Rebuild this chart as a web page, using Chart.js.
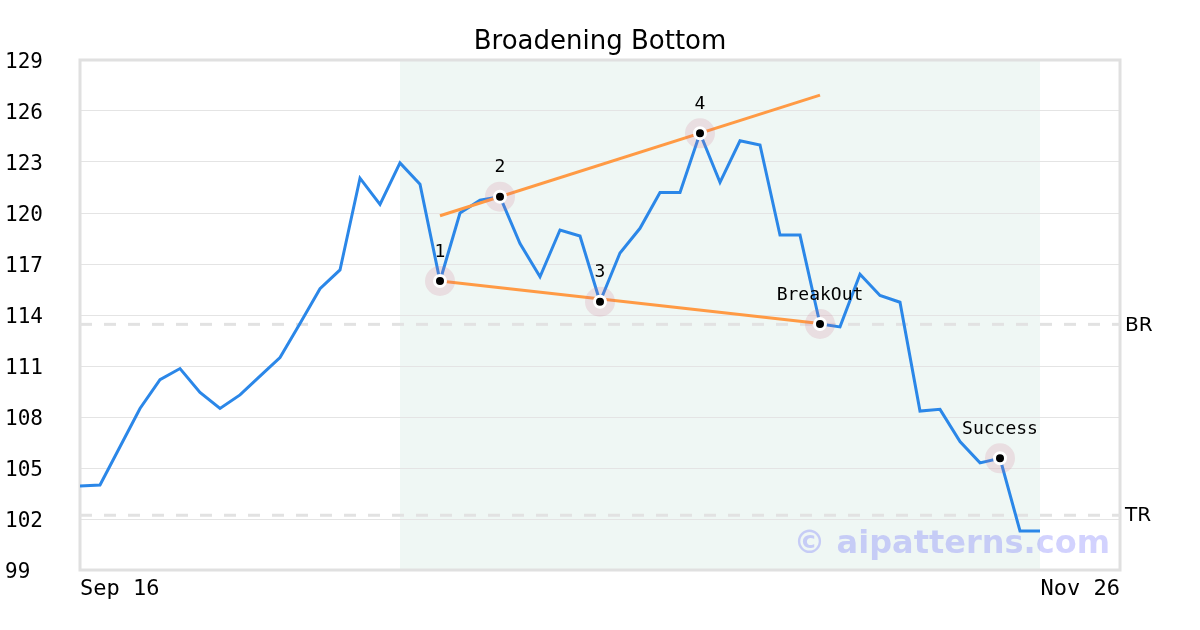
<!DOCTYPE html>
<html><head><meta charset="utf-8">
<script src="https://cdn.jsdelivr.net/npm/chart.js@4"></script>
<style>html,body{margin:0;padding:0;background:#fff}canvas{display:block}</style>
</head><body>
<canvas id="c" width="1200" height="630"></canvas>
<script>
// ---- data ----
const chartTitle = 'Broadening Bottom';
const dateLabels = ['Sep 16', 'Nov 26'];
const slotCount = 53;
const prices = [103.94, 104.0, 106.25, 108.5, 110.2, 110.85, 109.45, 108.5, 109.3, 110.4,
  111.5, 113.5, 115.55, 116.65, 122.05, 120.5, 122.95, 121.7, 116.0, 120.0,
  120.75, 120.96, 118.2, 116.25, 119.0, 118.65, 114.78, 117.65, 119.1, 121.2,
  121.2, 124.69, 121.8, 124.25, 124.0, 118.7, 118.7, 113.47, 113.3, 116.4,
  115.15, 114.75, 108.35, 108.45, 106.55, 105.3, 105.57, 101.3, 101.3];
const patternIdx = [18, 21, 26, 31, 37, 46];
const patternNames = ['1', '2', '3', '4', 'BreakOut', 'Success'];
const trendIdx = [18, 37];
const upperTrendVals = [119.84, 126.93];
const lowerTrendVals = [116.0, 113.5];
const levelNames = ['BR', 'TR'];
const levelValues = [113.45, 102.22];
const shadeIdx = [16, 48];
const yMin = 99, yMax = 129, yStep = 3;
const watermark = '\u00A9 aipatterns.com';

// ---- build ----
const labels = Array.from({length: slotCount}, (_, i) =>
  i === 0 ? dateLabels[0] : (i === slotCount - 1 ? dateLabels[1] : ''));
function sparse(idx, vals) {
  const a = new Array(prices.length).fill(null);
  idx.forEach((k, j) => { a[k] = vals[j]; });
  return a;
}
const markerVals = sparse(patternIdx, patternIdx.map(k => prices[k]));
const upperTrend = sparse(trendIdx, upperTrendVals);
const lowerTrend = sparse(trendIdx, lowerTrendVals);

const MONO = "'DejaVu Sans Mono', monospace";
const SANS = "'DejaVu Sans', sans-serif";

const decor = {
  id: 'decor',
  beforeDraw(chart) {
    const {ctx, chartArea: a, scales: {x}} = chart;
    ctx.save();
    const x0 = x.getPixelForValue(shadeIdx[0]);
    const x1 = x.getPixelForValue(shadeIdx[1]);
    ctx.fillStyle = '#eff7f4';
    ctx.fillRect(x0, a.top, x1 - x0, a.bottom - a.top);
    ctx.fillStyle = '#000';
    ctx.font = "26px " + SANS;
    ctx.textAlign = 'center';
    ctx.textBaseline = 'alphabetic';
    ctx.fillText(chartTitle, chart.width / 2, 48.5);
    ctx.restore();
  },
  beforeDatasetsDraw(chart) {
    const {ctx, chartArea: a, scales: {y}} = chart;
    ctx.save();
    ctx.strokeStyle = '#e0e0e0';
    ctx.lineWidth = 3;
    ctx.strokeRect(a.left, a.top, a.right - a.left, a.bottom - a.top);
    ctx.setLineDash([12, 12]);
    ctx.lineWidth = 3;
    ctx.strokeStyle = '#e2e2e2';
    levelValues.forEach(v => {
      const py = y.getPixelForValue(v);
      ctx.beginPath();
      ctx.moveTo(a.left, py);
      ctx.lineTo(a.right, py);
      ctx.stroke();
    });
    ctx.setLineDash([]);
    ctx.font = "bold 32px " + SANS;
    ctx.fillStyle = 'rgba(95,95,250,0.28)';
    ctx.textAlign = 'right';
    ctx.textBaseline = 'alphabetic';
    ctx.fillText(watermark, a.right - 10, a.bottom - 17);
    ctx.restore();
  },
  afterDatasetsDraw(chart) {
    const {ctx, chartArea: a, scales: {x, y}} = chart;
    ctx.save();
    ctx.fillStyle = '#000';
    ctx.font = "18px " + MONO;
    ctx.textAlign = 'center';
    ctx.textBaseline = 'middle';
    patternIdx.forEach((k, j) => {
      ctx.fillText(patternNames[j], x.getPixelForValue(k), y.getPixelForValue(prices[k]) - 29);
    });
    ctx.font = "20px " + SANS;
    ctx.textAlign = 'left';
    levelValues.forEach((v, j) => {
      ctx.fillText(levelNames[j], a.right + 5, y.getPixelForValue(v) + 1);
    });
    ctx.restore();
  }
};

new Chart(document.getElementById('c'), {
  type: 'line',
  data: {
    labels,
    datasets: [
      { data: markerVals, showLine: false, pointRadius: 5.5, pointHoverRadius: 5.5,
        pointBackgroundColor: '#000', pointBorderColor: '#fff', pointBorderWidth: 3, order: 0 },
      { data: markerVals, showLine: false, pointRadius: 15, pointHoverRadius: 15,
        pointBackgroundColor: 'rgba(205,110,140,0.18)', pointBorderWidth: 0, order: 1 },
      { data: upperTrend, borderColor: '#ff9a44', borderWidth: 3, pointRadius: 0, spanGaps: true, order: 2 },
      { data: lowerTrend, borderColor: '#ff9a44', borderWidth: 3, pointRadius: 0, spanGaps: true, order: 2 },
      { data: prices, borderColor: '#2b87e8', borderWidth: 3, pointRadius: 0, tension: 0, order: 4 }
    ]
  },
  options: {
    responsive: false,
    animation: false,
    devicePixelRatio: 1,
    layout: { padding: { left: 5, right: 80, top: 60, bottom: 0 } },
    plugins: {
      legend: { display: false },
      tooltip: { enabled: false },
      title: { display: false }
    },
    scales: {
      x: {
        grid: { display: false, drawTicks: false },
        border: { display: false },
        ticks: { autoSkip: false, maxRotation: 0, align: 'inner', padding: 6, color: '#000',
          font: { family: MONO, size: 22 } },
        afterFit(s) { s.height = 60; }
      },
      y: {
        min: yMin, max: yMax,
        grid: { color: '#e4e4e4', lineWidth: 1, drawTicks: false },
        border: { display: false },
        ticks: { stepSize: yStep, crossAlign: 'far', color: '#000', padding: 8, labelOffset: 3,
          font: { family: MONO, size: 21 } },
        afterFit(s) { s.width = 75; }
      }
    }
  },
  plugins: [decor]
});
</script>
</body></html>
